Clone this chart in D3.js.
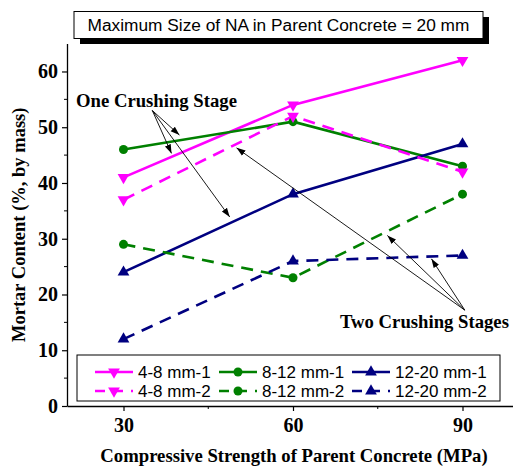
<!DOCTYPE html>
<html>
<head>
<meta charset="utf-8">
<script src="https://cdn.jsdelivr.net/npm/d3@7"></script>
<style>
  body { margin: 0; background: #fff; }
  svg { display: block; }
</style>
</head>
<body>
<div id="chart"></div>
<script>
// data
const strengths = [30, 60, 90];
const xTicks = [30, 60, 90];
const yTicks = [0, 10, 20, 30, 40, 50, 60];

const mm48_1 = [41, 54, 62];
const mm48_2 = [37, 52, 42];
const mm812_1 = [46, 51, 43];
const mm812_2 = [29, 23, 38];
const mm1220_1 = [24, 38, 47];
const mm1220_2 = [12, 26, 27];

const seriesNames = ["4-8 mm-1", "8-12 mm-1", "12-20 mm-1", "4-8 mm-2", "8-12 mm-2", "12-20 mm-2"];

// annotation arrows, in data units: [fromX, fromY, toX, toY]
const oneStageArrows = [
    [35.1, 53.0, 39.9, 48.6],
    [35.1, 53.0, 38.5, 45.3],
    [35.1, 53.0, 48.8, 33.9]
];
const twoStageArrows = [
    [90.4, 17.2, 50.0, 46.3],
    [90.4, 17.2, 76.7, 30.6],
    [90.4, 17.2, 84.5, 26.4]
];

const series = [
    {name: seriesNames[0], values: mm48_1, color: "#ff00ff", dash: null, marker: "down"},
    {name: seriesNames[1], values: mm812_1, color: "#008000", dash: null, marker: "circle"},
    {name: seriesNames[2], values: mm1220_1, color: "#000080", dash: null, marker: "up"},
    {name: seriesNames[3], values: mm48_2, color: "#ff00ff", dash: "12,8", marker: "down"},
    {name: seriesNames[4], values: mm812_2, color: "#008000", dash: "12,8", marker: "circle"},
    {name: seriesNames[5], values: mm1220_2, color: "#000080", dash: "12,8", marker: "up"}
];

const width = 513, height = 468;
const serif = "'Liberation Serif', 'Times New Roman', serif";
const sans = "'Liberation Sans', Arial, sans-serif";

const svg = d3.select("#chart").append("svg")
    .attr("width", width)
    .attr("height", height);

const x = d3.scaleLinear().domain([20, 100]).range([67, 519]);
const y = d3.scaleLinear().domain([0, 65]).range([406, 43.6]);

// arrow marker
const defs = svg.append("defs");
defs.append("marker")
    .attr("id", "arrow")
    .attr("viewBox", "0 0 10 10")
    .attr("refX", 10)
    .attr("refY", 5)
    .attr("markerWidth", 9)
    .attr("markerHeight", 9)
    .attr("markerUnits", "userSpaceOnUse")
    .attr("orient", "auto")
    .append("path")
    .attr("d", "M0,1.5 L10,5 L0,8.5 Z")
    .attr("fill", "#000");

// axes
const xAxis = svg.append("g")
    .attr("transform", `translate(0,${y(0)})`)
    .call(d3.axisBottom(x).tickValues(xTicks).tickSize(5).tickSizeOuter(0).tickPadding(7));
xAxis.append("g").selectAll("line")
    .data([45, 75])
    .join("line")
    .attr("x1", d => x(d)).attr("x2", d => x(d))
    .attr("y1", 0).attr("y2", 3)
    .attr("stroke", "#000");

const yAxis = svg.append("g")
    .attr("transform", `translate(${x(20)},0)`)
    .call(d3.axisLeft(y).tickValues(yTicks).tickSize(5).tickSizeOuter(0).tickPadding(4));
yAxis.append("g").selectAll("line")
    .data([5, 15, 25, 35, 45, 55])
    .join("line")
    .attr("x1", 0).attr("x2", -3)
    .attr("y1", d => y(d)).attr("y2", d => y(d))
    .attr("stroke", "#000");

[xAxis, yAxis].forEach(a => {
    a.select(".domain").attr("stroke", "#000").attr("stroke-width", 1.3);
    a.selectAll(".tick line").attr("stroke", "#000").attr("stroke-width", 1.2);
    a.selectAll(".tick text")
        .style("font-family", serif)
        .style("font-weight", "bold")
        .style("font-size", "20px")
        .attr("fill", "#000");
});

// axis titles
svg.append("text")
    .attr("x", 294)
    .attr("y", 462)
    .attr("text-anchor", "middle")
    .style("font-family", serif)
    .style("font-weight", "bold")
    .style("font-size", "18.7px")
    .text("Compressive Strength of Parent Concrete (MPa)");

svg.append("text")
    .attr("transform", `translate(25,${y(32.5)}) rotate(-90)`)
    .attr("text-anchor", "middle")
    .style("font-family", serif)
    .style("font-weight", "bold")
    .style("font-size", "18.5px")
    .text("Mortar Content (%, by mass)");

// marker drawing helper
function drawMarker(sel, type, color) {
    if (type === "circle") {
        sel.append("circle").attr("r", 4.5).attr("fill", color);
    } else {
        sel.append("path")
            .attr("d", d3.symbol().type(d3.symbolTriangle).size(60)())
            .attr("transform", type === "down" ? "rotate(180)" : null)
            .attr("fill", color);
    }
}

// series lines
const line = d3.line()
    .x((d, i) => x(strengths[i]))
    .y(d => y(d));

const plot = svg.append("g");
series.forEach(s => {
    plot.append("path")
        .datum(s.values)
        .attr("d", line)
        .attr("fill", "none")
        .attr("stroke", s.color)
        .attr("stroke-width", 2.6)
        .attr("stroke-dasharray", s.dash);
});
series.forEach(s => {
    s.values.forEach((v, i) => {
        const g = plot.append("g")
            .attr("transform", `translate(${x(strengths[i])},${y(v)})`);
        drawMarker(g, s.marker, s.color);
    });
});

// annotations
const ann = svg.append("g");
oneStageArrows.concat(twoStageArrows).forEach(a => {
    ann.append("line")
        .attr("x1", x(a[0])).attr("y1", y(a[1]))
        .attr("x2", x(a[2])).attr("y2", y(a[3]))
        .attr("stroke", "#000")
        .attr("stroke-width", 0.9)
        .attr("marker-end", "url(#arrow)");
});

ann.append("text")
    .attr("x", 76)
    .attr("y", 107)
    .style("font-family", serif)
    .style("font-weight", "bold")
    .style("font-size", "18.7px")
    .text("One Crushing Stage");

ann.append("text")
    .attr("x", 340)
    .attr("y", 328)
    .style("font-family", serif)
    .style("font-weight", "bold")
    .style("font-size", "18.7px")
    .text("Two Crushing Stages");

// title box with shadow
svg.append("rect")
    .attr("x", 80).attr("y", 17)
    .attr("width", 409).attr("height", 27)
    .attr("fill", "#000");
svg.append("rect")
    .attr("x", 74).attr("y", 11.5)
    .attr("width", 409).attr("height", 27)
    .attr("fill", "#fff")
    .attr("stroke", "#000")
    .attr("stroke-width", 1);
svg.append("text")
    .attr("x", 278.5)
    .attr("y", 30.5)
    .attr("text-anchor", "middle")
    .style("font-family", sans)
    .style("font-size", "17.3px")
    .text("Maximum Size of NA in Parent Concrete = 20 mm");

// legend
const legend = svg.append("g");
legend.append("rect")
    .attr("x", 77).attr("y", 355)
    .attr("width", 423).attr("height", 46)
    .attr("fill", "#fff")
    .attr("stroke", "#000")
    .attr("stroke-width", 1);

const colX = [95, 219, 352];
const rowY = [372, 391];
series.forEach((s, i) => {
    const col = i % 3, row = Math.floor(i / 3);
    const g = legend.append("g")
        .attr("transform", `translate(${colX[col]},${rowY[row]})`);
    g.append("line")
        .attr("x1", 0).attr("x2", 38)
        .attr("stroke", s.color)
        .attr("stroke-width", 2.6)
        .attr("stroke-dasharray", s.dash ? "10,8" : null);
    const m = g.append("g").attr("transform", "translate(19,0)");
    drawMarker(m, s.marker, s.color);
    g.append("text")
        .attr("x", 43)
        .attr("y", 6)
        .style("font-family", sans)
        .style("font-size", "17px")
        .text(s.name);
});
</script>
</body>
</html>
